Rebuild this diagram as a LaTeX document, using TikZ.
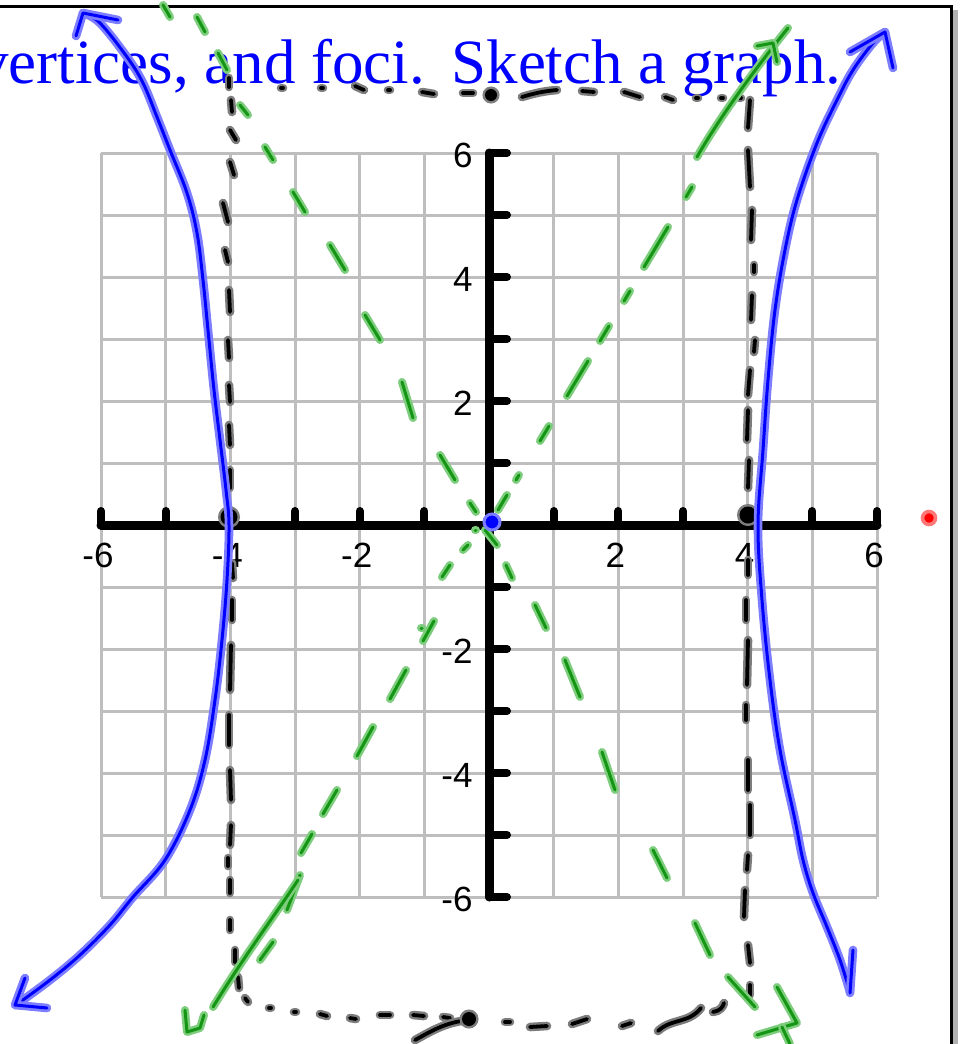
\documentclass[tikz,border=0pt]{standalone}
\usepackage{fontspec}
\newfontfamily\labfont{Liberation Sans}
\newfontfamily\titlefont{Liberation Serif}
\definecolor{inkblue}{RGB}{0,0,255}
\definecolor{haloblue}{RGB}{125,125,255}
\definecolor{inkgreen}{RGB}{20,150,20}
\definecolor{halogreen}{RGB}{125,205,125}
\definecolor{halogray}{RGB}{125,125,125}
\definecolor{gridgray}{RGB}{190,190,190}
\definecolor{inkred}{RGB}{255,0,0}
\definecolor{halored}{RGB}{255,120,120}
\tikzset{
  gridline/.style={draw=gridgray, line width=1.5pt},
  axisline/.style={draw=black, line width=4.5pt, line cap=round},
  tickline/.style={draw=black, line width=4pt, line cap=round},
  ticklab/.style={font=\labfont\fontsize{17.5}{20}\selectfont, inner sep=0pt},
  bluepen/.style={draw=inkblue, line width=1.5pt, line cap=round, line join=round,
    preaction={draw=haloblue, line width=4.3pt, line cap=round, line join=round}},
  greenpen/.style={draw=inkgreen, line width=1.5pt, line cap=round, line join=round,
    preaction={draw=halogreen, line width=4pt, line cap=round, line join=round}},
  blackpen/.style={draw=black, line width=1.9pt, line cap=round, line join=round,
    preaction={draw=halogray, line width=4.3pt, line cap=round, line join=round}},
  blackdot/.style={fill=black, preaction={fill=halogray, draw=halogray, line width=2.5pt}},
}
\begin{document}
\begin{tikzpicture}[x=0.5pt,y=-0.5pt]
\useasboundingbox (0,0) rectangle (959,1044);
% frame
\draw[draw=halogray!60, line width=2.5pt] (955,10) -- (955,1044);
\draw[draw=black, line width=1.5pt] (0,6) -- (951,6) -- (951,1044);
% grid
\foreach \k in {0,...,12} {
  \draw[gridline] ({101+64.667*\k},153) -- ({101+64.667*\k},897);
  \draw[gridline] (101,{153+62*\k}) -- (877,{153+62*\k});
}
% axes
\draw[axisline] (101,525) -- (877,525);
\draw[axisline] (489,153) -- (489,897);
\foreach \k in {0,1,2,3,4,5,7,8,9,10,11,12} {
  \draw[tickline] ({101+64.667*\k},525) -- ({101+64.667*\k},511);
  \draw[tickline] (489,{153+62*\k}) -- (507,{153+62*\k});
}
% tick labels
\foreach \v/\k in {-6/0,-4/2,-2/4,2/8,4/10,6/12}
  \node[ticklab] (xl\k) at ({98+64.667*\k},555) {\v};
\foreach \v/\k in {6/0,4/2,2/4,-2/8,-4/10,-6/12}
  \node[ticklab, anchor=east] (yl\k) at (473,{155+62*\k}) {\v};
% title
\node[font=\titlefont\fontsize{31.5}{36}\selectfont, text=inkblue, inner sep=0pt, anchor=base east]
  (title) at (842,83) {vertices, and foci.\hspace{0.42em}Sketch a graph.};
% black dashed box
\foreach \a/\b/\c/\d in {
  229/78/229/87, 281/88/283/88, 321/88/323/88, 355/86/364/90, 388/90/390/90,
  422/92/434/94, 463/93/473/93, 582/91/594/92, 624/92/640/97, 665/97/673/100,
  696/98/698/98, 721/98/723/98, 739/98/741/98,
  231/100/232/112, 230/130/236/140, 230/162/234/175, 223/203/228/222, 225/250/228/262,
  229/290/230/312, 228/340/229/358, 229/385/230/402, 229/425/230/445, 230/470/230/488,
  232/563/233/578, 232/600/232/620, 231/645/230/690, 229/715/229/745, 230/770/231/800,
  231/825/230/845, 228/858/228/866, 230/880/230/893, 230/920/230/930, 235/950/235/962,
  238/977/239/988,
  245/998/248/1002, 269/1008/271/1008, 294/1012/296/1012, 320/1014/327/1016, 350/1018/356/1019,
  380/1015/390/1015, 413/1015/424/1016, 443/1017/450/1018, 505/1022/510/1022,
  530/1027/547/1026, 572/1024/587/1019, 622/1026/631/1023,
  750/100/748/128, 748/150/750/187, 752/210/751/240, 754/265/754/272, 752/295/751/320,
  755/340/754/352, 750/370/748/395, 748/410/747/440, 749/460/748/488,
  748/560/748/575, 746/600/746/620, 748/640/747/685, 746/705/746/720, 748/760/748/790,
  750/805/750/835, 748/855/747/870, 745/890/744/917, 748/945/750/963, 750/985/750/995}
  \draw[blackpen] (\a,\b) -- (\c,\d);
\draw[blackpen] (522,97) .. controls (535,93) and (545,91) .. (557,90);
\draw[blackpen] (658,1031) .. controls (672,1018) and (688,1024) .. (701,1008);
\draw[blackpen] (713,1012) .. controls (720,1011) and (723,1007) .. (724,1003);
\draw[blackpen] (415,1040) .. controls (430,1032) and (445,1022) .. (469,1020);
\fill[blackdot] (491,95) circle (6);
\fill[blackdot] (469,1019) circle (7);
\fill[blackdot] (229,517) circle (8.5);
\fill[blackdot] (748,515) circle (8.5);
% green asymptotes
\foreach \a/\b/\c/\d in {
  163/5/170/17, 197/17/205/32, 218/53/227/70, 240/105/248/115, 265/147/273/160,
  293/192/305/212, 330/245/345/270, 365/315/380/340, 402/382/413/418, 440/455/455/480,
  470/503/476/512, 485/530/497/545, 506/565/512/578, 535/605/546/628, 565/660/580/697,
  602/752/615/790, 653/850/667/878, 695/923/710/955, 728/977/755/1007,
  498/510/507/495, 516/480/519/475, 540/441/549/426, 567/396/588/361, 600/341/609/326,
  624/301/630/291, 644/267/668/227, 686/197/692/187,
  475/530/476/530, 468/545/463/550, 450/565/442/577, 434/621/423/641, 406/670/390/699,
  373/727/357/756, 337/790/323/814, 312/834/301/853,
  300/875/287/910, 273/942/260/960, 421/628/422/628}
  \draw[greenpen] (\a,\b) -- (\c,\d);
\draw[greenpen] (697,157) .. controls (715,125) and (750,75) .. (788,28);
\draw[greenpen] (757,46) -- (773,43) -- (777,62);
\draw[greenpen] (298,880) .. controls (275,915) and (245,955) .. (213,1007);
\draw[greenpen] (185,1010) -- (187,1032) -- (200,1028) -- (204,1015);
\draw[greenpen] (777,987) -- (797,1023) -- (757,1035);
\draw[greenpen] (782,1027) -- (790,1044);
% blue hyperbola
\draw[bluepen] plot[smooth, tension=0.6] coordinates {
  (83,13) (100,23) (127,57) (143,83) (157,117) (170,150) (187,193) (197,233)
  (203,280) (208,330) (214,390) (220,440) (226,490) (229,525) (227,580) (222,640)
  (215,700) (205,760) (190,810) (165,860) (133,897) (110,925) (80,955) (50,980) (16,1005)};
\draw[bluepen] (118,20) -- (83,13) -- (76,36);
\draw[bluepen] (25,978) -- (15,1005) -- (47,1008);
\draw[bluepen] plot[smooth, tension=0.6] coordinates {
  (885,32) (873,43) (853,70) (837,100) (817,143) (797,200) (785,250) (775,310)
  (768,380) (763,450) (758,525) (762,600) (770,680) (780,750) (795,820) (803,860)
  (813,893) (827,927) (840,960) (850,992)};
\draw[bluepen] (850,52) -- (885,32) -- (893,68);
\draw[bluepen] (853,950) -- (850,993);
\filldraw[fill=inkblue, draw=haloblue, line width=1.5pt] (492,522) circle (8);
% red dot
\filldraw[fill=inkred, draw=halored, line width=1.8pt] (929,518) circle (6.5);
\end{tikzpicture}
\end{document}
